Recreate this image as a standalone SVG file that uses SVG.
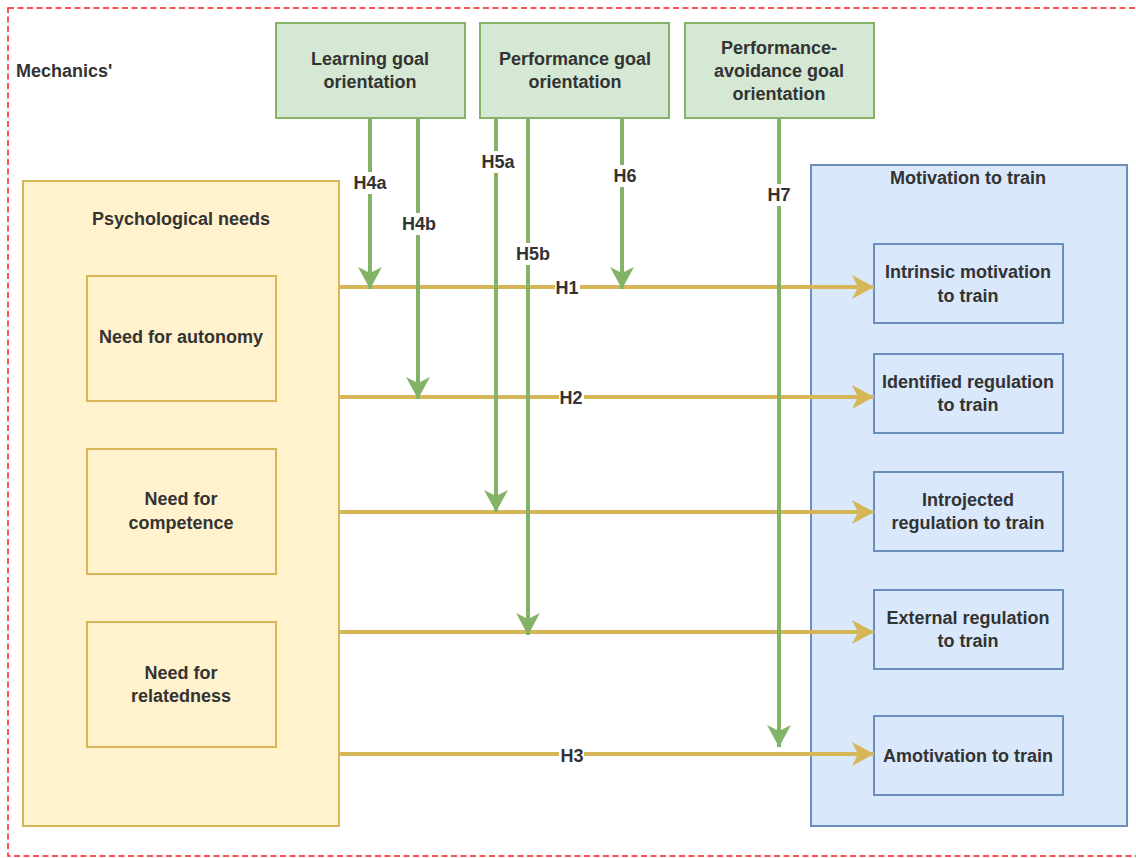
<svg xmlns="http://www.w3.org/2000/svg" width="1136" height="858" viewBox="0 0 1136 858">
<style>
text{font-family:"Liberation Sans",Arial,sans-serif;font-size:18px;font-weight:bold;fill:#333333;text-anchor:middle}
.g{fill:#d5e8d4;stroke:#82b366;stroke-width:2}
.y{fill:#fff2cc;stroke:#d6b656;stroke-width:2}
.b{fill:#dae8fc;stroke:#6c8ebf;stroke-width:2}
.ga{stroke:#82b366;stroke-width:4;fill:none;marker-end:url(#ag)}
.ya{stroke:#d6b656;stroke-width:4;fill:none;marker-end:url(#ay)}
.lbl{fill:#fff;stroke:none}
</style>
<defs>
<marker id="ag" markerUnits="userSpaceOnUse" markerWidth="24" markerHeight="24" refX="22" refY="12" orient="auto" overflow="visible">
<path d="M0,0 L22,12 L0,24 L6,12 Z" fill="#82b366"/>
</marker>
<marker id="ay" markerUnits="userSpaceOnUse" markerWidth="24" markerHeight="24" refX="22" refY="12" orient="auto" overflow="visible">
<path d="M0,0 L22,12 L0,24 L6,12 Z" fill="#d6b656"/>
</marker>
</defs>
<rect x="8" y="8" width="1140" height="848" fill="none" stroke="#ff1a1a" stroke-width="1.5" stroke-dasharray="6 3.5"/>
<text x="16" y="77" style="text-anchor:start">Mechanics'</text>

<g id="psych"><rect class="y" x="23" y="181" width="316" height="645"/><text x="181" y="225">Psychological needs</text></g>
<g id="motiv"><rect class="b" x="811" y="165" width="316" height="661"/><text x="968" y="184">Motivation to train</text></g>

<g id="lgo"><rect class="g" x="276" y="23" width="189" height="95"/><text x="370" y="65">Learning goal</text><text x="370" y="88">orientation</text></g>
<g id="pgo"><rect class="g" x="480" y="23" width="189" height="95"/><text x="575" y="65">Performance goal</text><text x="575" y="88">orientation</text></g>
<g id="pago"><rect class="g" x="685" y="23" width="189" height="95"/><text x="779" y="54">Performance-</text><text x="779" y="77">avoidance goal</text><text x="779" y="100">orientation</text></g>

<g id="auto"><rect class="y" x="87" y="276" width="189" height="125"/><text x="181" y="343">Need for autonomy</text></g>
<g id="comp"><rect class="y" x="87" y="449" width="189" height="125"/><text x="181" y="505">Need for</text><text x="181" y="529">competence</text></g>
<g id="rel"><rect class="y" x="87" y="622" width="189" height="125"/><text x="181" y="679">Need for</text><text x="181" y="702">relatedness</text></g>

<g id="intr"><rect class="b" x="874" y="244" width="189" height="79"/><text x="968" y="278">Intrinsic motivation</text><text x="968" y="302">to train</text></g>
<g id="iden"><rect class="b" x="874" y="354" width="189" height="79"/><text x="968" y="388">Identified regulation</text><text x="968" y="411">to train</text></g>
<g id="intro"><rect class="b" x="874" y="472" width="189" height="79"/><text x="968" y="506">Introjected</text><text x="968" y="529">regulation to train</text></g>
<g id="ext"><rect class="b" x="874" y="590" width="189" height="79"/><text x="968" y="624">External regulation</text><text x="968" y="647">to train</text></g>
<g id="amot"><rect class="b" x="874" y="716" width="189" height="79"/><text x="968" y="762">Amotivation to train</text></g>

<g id="connectors">
<line class="ya" x1="339" y1="287" x2="874" y2="287"/>
<line class="ya" x1="339" y1="397" x2="874" y2="397"/>
<line class="ya" x1="339" y1="512" x2="874" y2="512"/>
<line class="ya" x1="339" y1="632" x2="874" y2="632"/>
<line class="ya" x1="339" y1="754" x2="874" y2="754"/>
<line class="ga" x1="370" y1="118" x2="370" y2="289"/>
<line class="ga" x1="418" y1="118" x2="418" y2="399"/>
<line class="ga" x1="496" y1="118" x2="496" y2="512"/>
<line class="ga" x1="528" y1="118" x2="528" y2="635"/>
<line class="ga" x1="622" y1="118" x2="622" y2="289"/>
<line class="ga" x1="779" y1="118" x2="779" y2="747"/>
<rect class="lbl" x="354" y="172" width="33" height="22"/><text x="370" y="189">H4a</text>
<rect class="lbl" x="402" y="213" width="34" height="22"/><text x="419" y="230">H4b</text>
<rect class="lbl" x="481" y="151" width="34" height="22"/><text x="498" y="168">H5a</text>
<rect class="lbl" x="516" y="243" width="34" height="22"/><text x="533" y="260">H5b</text>
<rect class="lbl" x="612" y="165" width="26" height="22"/><text x="625" y="182">H6</text>
<rect class="lbl" x="766" y="184" width="26" height="22"/><text x="779" y="201">H7</text>
<rect class="lbl" x="555" y="279" width="25" height="18"/><text x="567" y="294">H1</text>
<rect class="lbl" x="559" y="389" width="25" height="18"/><text x="571" y="404">H2</text>
<rect class="lbl" x="559" y="746" width="25" height="18"/><text x="572" y="762">H3</text>
</g>
</svg>
